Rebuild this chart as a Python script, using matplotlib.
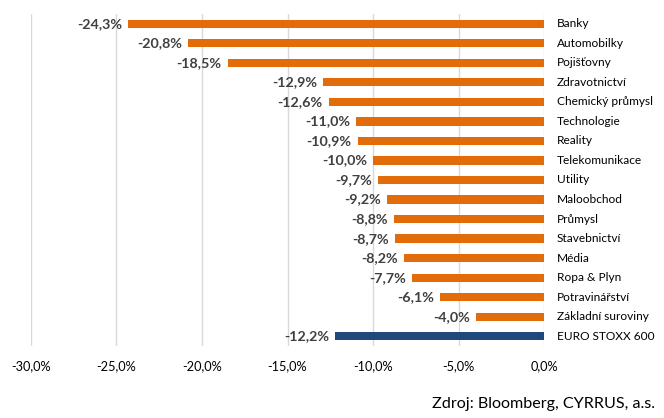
import matplotlib
matplotlib.use("Agg")
import matplotlib.pyplot as plt
from matplotlib.ticker import FuncFormatter

categories = ["Banky", "Automobilky", "Pojišťovny", "Zdravotnictví", "Chemický průmysl",
              "Technologie", "Reality", "Telekomunikace", "Utility", "Maloobchod",
              "Průmysl", "Stavebnictví", "Média", "Ropa & Plyn", "Potravinářství",
              "Základní suroviny", "EURO STOXX 600"]
values = [-24.3, -20.8, -18.5, -12.9, -12.6, -11.0, -10.9, -10.0, -9.7, -9.2,
          -8.8, -8.7, -8.2, -7.7, -6.1, -4.0, -12.2]
xticks = [-30, -25, -20, -15, -10, -5, 0]
source = "Zdroj: Bloomberg, CYRRUS, a.s."

plt.rcParams['font.family'] = ['Lato', 'DejaVu Sans']
orange = "#E36C0A"
blue = "#1F497D"
text_col = "#404040"

fig = plt.figure(figsize=(6.64, 4.18), dpi=100)
ax = fig.add_axes([31/664, 1-346/418, (544-31)/664, (346-14)/418])

n = len(categories)
ypos = list(range(n))
colors = [orange] * (n - 1) + [blue]
ax.barh(ypos, values, height=0.42, color=colors, zorder=3)
ax.set_ylim(n - 0.5, -0.5)
ax.set_xlim(-30, 0)
ax.set_xticks(xticks)
ax.xaxis.set_major_formatter(FuncFormatter(lambda v, p: f"{v:.1f}%".replace(".", ",")))
ax.tick_params(axis='x', length=0, labelsize=9.2, labelcolor="#000000", pad=10)
ax.set_yticks([])
ax.grid(axis='x', color="#D9D9D9", linewidth=1, zorder=0)
for s in ax.spines.values():
    s.set_visible(False)

for y, v, c in zip(ypos, values, categories):
    ax.text(v - 0.35, y, f"{v:.1f}%".replace(".", ","), ha='right', va='center',
            fontsize=10.3, fontweight='bold', color=text_col)
    ax.text(0.75, y, c, ha='left', va='center', fontsize=8.6, color="#000000",
            clip_on=False)

fig.text(655/664, 1-404/418, source, ha='right', va='center', fontsize=11.6, color="#000000")

fig.savefig("out.png", dpi=100)
